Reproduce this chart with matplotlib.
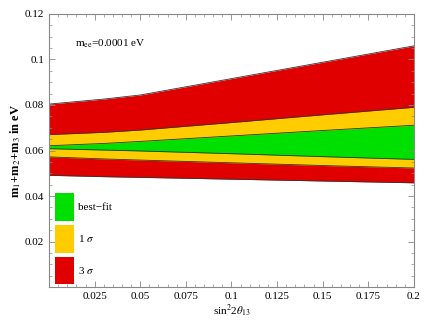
import numpy as np
import matplotlib
matplotlib.use('Agg')
import matplotlib.pyplot as plt
from matplotlib.patches import Patch
from matplotlib.ticker import MultipleLocator, FixedLocator, FixedFormatter

plt.rcParams['font.family'] = ['Liberation Serif', 'DejaVu Serif']
plt.rcParams['mathtext.fontset'] = 'stix'

# sin^2 2theta13 sample points
s13 = [0.0, 0.03, 0.05, 0.1, 0.15, 0.2]

# band edges (sum of masses, eV)
red_hi = [0.0804, 0.0826, 0.0844, 0.0916, 0.0988, 0.1060]
yel_hi = [0.0670, 0.0680, 0.0690, 0.0723, 0.0757, 0.0790]
grn_hi = [0.0621, 0.0631, 0.0640, 0.0664, 0.0688, 0.0711]
grn_lo = [0.0608, 0.0602, 0.0598, 0.0586, 0.0573, 0.0561]
yel_lo = [0.0572, 0.0563, 0.0558, 0.0546, 0.0534, 0.0523]
red_lo = [0.0491, 0.0485, 0.0482, 0.0474, 0.0466, 0.0458]

xticks = [0.025, 0.05, 0.075, 0.1, 0.125, 0.15, 0.175, 0.2]
xlabels = ['0.025', '0.05', '0.075', '0.1', '0.125', '0.15', '0.175', '0.2']
yticks = [0.02, 0.04, 0.06, 0.08, 0.1, 0.12]
ylabels = ['0.02', '0.04', '0.06', '0.08', '0.1', '0.12']

red = '#e00000'
yellow = '#ffcc00'
green = '#00e000'

fig = plt.figure(figsize=(4.36, 3.27), dpi=100)
ax = fig.add_axes([0.1124, 0.1223, 0.8371, 0.8349])

ax.fill_between(s13, red_lo, red_hi, color=red, lw=0)
ax.fill_between(s13, yel_lo, yel_hi, color=yellow, lw=0)
ax.fill_between(s13, grn_lo, grn_hi, color=green, lw=0)
for b in (red_hi, yel_hi, grn_hi, grn_lo, yel_lo, red_lo):
    ax.plot(s13, b, color='#333333', lw=0.6)

ax.set_xlim(0, 0.2)
ax.set_ylim(0, 0.12)
ax.xaxis.set_major_locator(FixedLocator(xticks))
ax.xaxis.set_major_formatter(FixedFormatter(xlabels))
ax.yaxis.set_major_locator(FixedLocator(yticks))
ax.yaxis.set_major_formatter(FixedFormatter(ylabels))
ax.xaxis.set_minor_locator(MultipleLocator(0.005))
ax.yaxis.set_minor_locator(MultipleLocator(0.005))
ax.tick_params(which='both', direction='in', top=True, right=True,
               color='#888888', labelsize=8)
ax.tick_params(which='major', length=4, width=0.6)
ax.tick_params(which='minor', length=2, width=0.5)
for sp in ax.spines.values():
    sp.set_color('#888888')
    sp.set_linewidth(0.8)

ax.set_xlabel(r'sin$^2$2$\theta_{13}$', fontsize=8, labelpad=1)
ax.set_ylabel(r'm$_1$+m$_2$+m$_3$ in eV', fontsize=9, fontweight='bold', labelpad=1)

ax.text(0.07, 0.88, r'm$_{\rm ee}$=0.0001 eV', transform=ax.transAxes, fontsize=8)

handles = [Patch(facecolor=green, edgecolor='none'),
           Patch(facecolor=yellow, edgecolor='none'),
           Patch(facecolor=red, edgecolor='none')]
ax.legend(handles, ['best\u2212fit', r'1 $\sigma$', r'3 $\sigma$'],
          loc='lower left', bbox_to_anchor=(0.016, 0.01), frameon=False,
          fontsize=8, handlelength=1.7, handleheight=3.45, labelspacing=0.36,
          handletextpad=0.4, borderpad=0, borderaxespad=0)

fig.savefig('out.png', dpi=100)
